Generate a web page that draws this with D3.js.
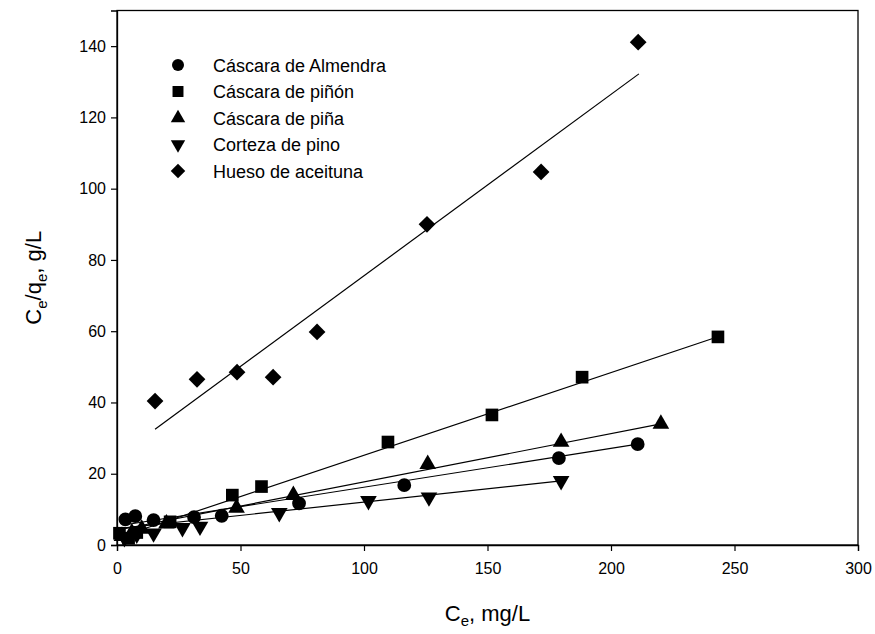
<!DOCTYPE html>
<html>
<head>
<meta charset="utf-8">
<script src="https://cdn.jsdelivr.net/npm/d3@7"></script>
<style>
  html, body { margin: 0; padding: 0; background: #fff; }
  svg { display: block; font-family: "Liberation Sans", Arial, sans-serif; }
</style>
</head>
<body>
<svg id="chart" width="875" height="634"></svg>
<script>
// Langmuir linearisation: Ce/qe versus Ce for five adsorbents
const seriesNames = ["Cáscara de Almendra", "Cáscara de piñón", "Cáscara de piña", "Corteza de pino", "Hueso de aceituna"];
const seriesSymbols = ["circle", "square", "triangle", "triangleDown", "diamond"];

const almendraCe = [3.4, 7.4, 14.8, 31.2, 42.4, 73.7, 116.3, 178.9, 210.8];
const almendraRatio = [7.2, 8.1, 7.0, 7.8, 8.2, 11.7, 16.8, 24.4, 28.3];

const pinonCe = [1.0, 4.7, 8.0, 21.5, 46.7, 58.5, 109.7, 151.8, 188.3, 243.3];
const pinonRatio = [3.3, 1.9, 3.5, 6.5, 14.0, 16.4, 28.9, 36.5, 47.1, 58.4];

const pinaCe = [2.0, 6.0, 10.0, 20.0, 48.4, 71.4, 125.8, 179.8, 220.2];
const pinaRatio = [2.5, 3.5, 4.5, 6.0, 10.4, 14.0, 22.7, 28.9, 34.0];

const cortezaCe = [3.0, 8.0, 14.8, 26.5, 33.6, 65.7, 101.8, 126.3, 179.8];
const cortezaRatio = [2.0, 3.0, 3.3, 4.8, 5.2, 9.0, 12.4, 13.4, 18.0];

const huesoCe = [15.4, 32.4, 48.6, 63.2, 81.0, 125.5, 171.7, 211.0];
const huesoRatio = [40.4, 46.5, 48.5, 47.1, 59.8, 90.0, 104.7, 141.1];

// linear fits (slope, intercept) and the Ce range each fit line spans
const fitSlope = [0.109, 0.232, 0.1356, 0.0747, 0.509];
const fitIntercept = [5.32, 2.0, 4.14, 4.57, 24.66];
const fitStart = [3.4, 1.0, 2.0, 3.0, 15.4];
const fitEnd = [210.8, 243.3, 220.2, 179.8, 211.3];

const xTicks = [0, 50, 100, 150, 200, 250, 300];
const yTicks = [0, 20, 40, 60, 80, 100, 120, 140];

const xs = [almendraCe, pinonCe, pinaCe, cortezaCe, huesoCe];
const ys = [almendraRatio, pinonRatio, pinaRatio, cortezaRatio, huesoRatio];

const series = seriesNames.map((name, i) => ({
  name,
  symbol: seriesSymbols[i],
  points: xs[i].map((x, j) => ({ x, y: ys[i][j] })),
  fit: { slope: fitSlope[i], intercept: fitIntercept[i], x0: fitStart[i], x1: fitEnd[i] }
}));

const svg = d3.select("#chart");
const margin = { left: 117, right: 17, top: 10.5, bottom: 89 };
const W = 875, H = 634;

const x = d3.scaleLinear().domain([0, 300]).range([margin.left, W - margin.right]);
const y = d3.scaleLinear().domain([0, 150]).range([H - margin.bottom, margin.top]);

// symbol generators, sized in square pixels
const symbolTypes = {
  circle: { type: d3.symbolCircle, size: 150 },
  square: { type: d3.symbolSquare, size: 160 },
  triangle: { type: d3.symbolTriangle, size: 120 },
  triangleDown: { type: d3.symbolTriangle, size: 120, rotate: 180 },
  diamond: { type: d3.symbolSquare, size: 140, rotate: 45 }
};
function symbolPath(name, scale = 1) {
  const s = symbolTypes[name];
  return d3.symbol().type(s.type).size(s.size * scale)();
}
function symbolRotate(name) {
  return symbolTypes[name].rotate || 0;
}

// frame
const plot = svg.append("g");
plot.append("rect")
  .attr("x", x(0)).attr("y", y(150))
  .attr("width", x(300) - x(0)).attr("height", y(0) - y(150))
  .attr("fill", "none").attr("stroke", "#000").attr("stroke-width", 1.3);

// axes
const xAxis = d3.axisBottom(x).tickValues(xTicks).tickSize(6).tickPadding(12).tickFormat(d3.format("d"));
const yAxis = d3.axisLeft(y).tickValues(yTicks).tickSize(6).tickPadding(5).tickFormat(d3.format("d"));

const gx = svg.append("g").attr("transform", `translate(0,${y(0)})`).call(xAxis);
const gy = svg.append("g").attr("transform", `translate(${x(0)},0)`).call(yAxis);
[gx, gy].forEach(g => {
  g.select(".domain").attr("stroke", "#000").attr("stroke-width", 1.3);
  g.selectAll(".tick line").attr("stroke", "#000").attr("stroke-width", 1.2);
  g.selectAll(".tick text").attr("fill", "#000").style("font-size", "16px")
    .style("font-family", "'Liberation Sans', Arial, sans-serif");
});

// axis titles
const xTitle = svg.append("text")
  .attr("x", (x(0) + x(300)) / 2).attr("y", 621)
  .attr("text-anchor", "middle").style("font-size", "22px");
xTitle.append("tspan").text("C");
xTitle.append("tspan").attr("dy", 5).style("font-size", "15px").text("e");
xTitle.append("tspan").attr("dy", -5).text(", mg/L");

const yTitle = svg.append("text")
  .attr("transform", `translate(41,${(y(0) + y(150)) / 2}) rotate(-90)`)
  .attr("text-anchor", "middle").style("font-size", "22px");
yTitle.append("tspan").text("C");
yTitle.append("tspan").attr("dy", 6).style("font-size", "15px").text("e");
yTitle.append("tspan").attr("dy", -6).text("/q");
yTitle.append("tspan").attr("dy", 6).style("font-size", "15px").text("e");
yTitle.append("tspan").attr("dy", -6).text(", g/L");

// fit lines
const line = d3.line().x(d => x(d[0])).y(d => y(d[1]));
plot.selectAll("path.fit")
  .data(series)
  .join("path")
  .attr("class", "fit")
  .attr("d", s => line([
    [s.fit.x0, s.fit.intercept + s.fit.slope * s.fit.x0],
    [s.fit.x1, s.fit.intercept + s.fit.slope * s.fit.x1]
  ]))
  .attr("fill", "none").attr("stroke", "#000").attr("stroke-width", 1.2);

// data markers
series.forEach(s => {
  plot.append("g").selectAll("path")
    .data(s.points)
    .join("path")
    .attr("d", symbolPath(s.symbol))
    .attr("transform", d => `translate(${x(d.x)},${y(d.y)}) rotate(${symbolRotate(s.symbol)})`)
    .attr("fill", "#000");
});

// legend
const legend = svg.append("g").attr("transform", "translate(178,65)");
const rowH = 26.5;
series.forEach((s, i) => {
  const row = legend.append("g").attr("transform", `translate(0,${i * rowH})`);
  row.append("path")
    .attr("d", symbolPath(s.symbol, 0.75))
    .attr("transform", `rotate(${symbolRotate(s.symbol)})`)
    .attr("fill", "#000");
  row.append("text")
    .attr("x", 35).attr("y", 6.5)
    .style("font-size", "18px")
    .text(s.name);
});
</script>
</body>
</html>
